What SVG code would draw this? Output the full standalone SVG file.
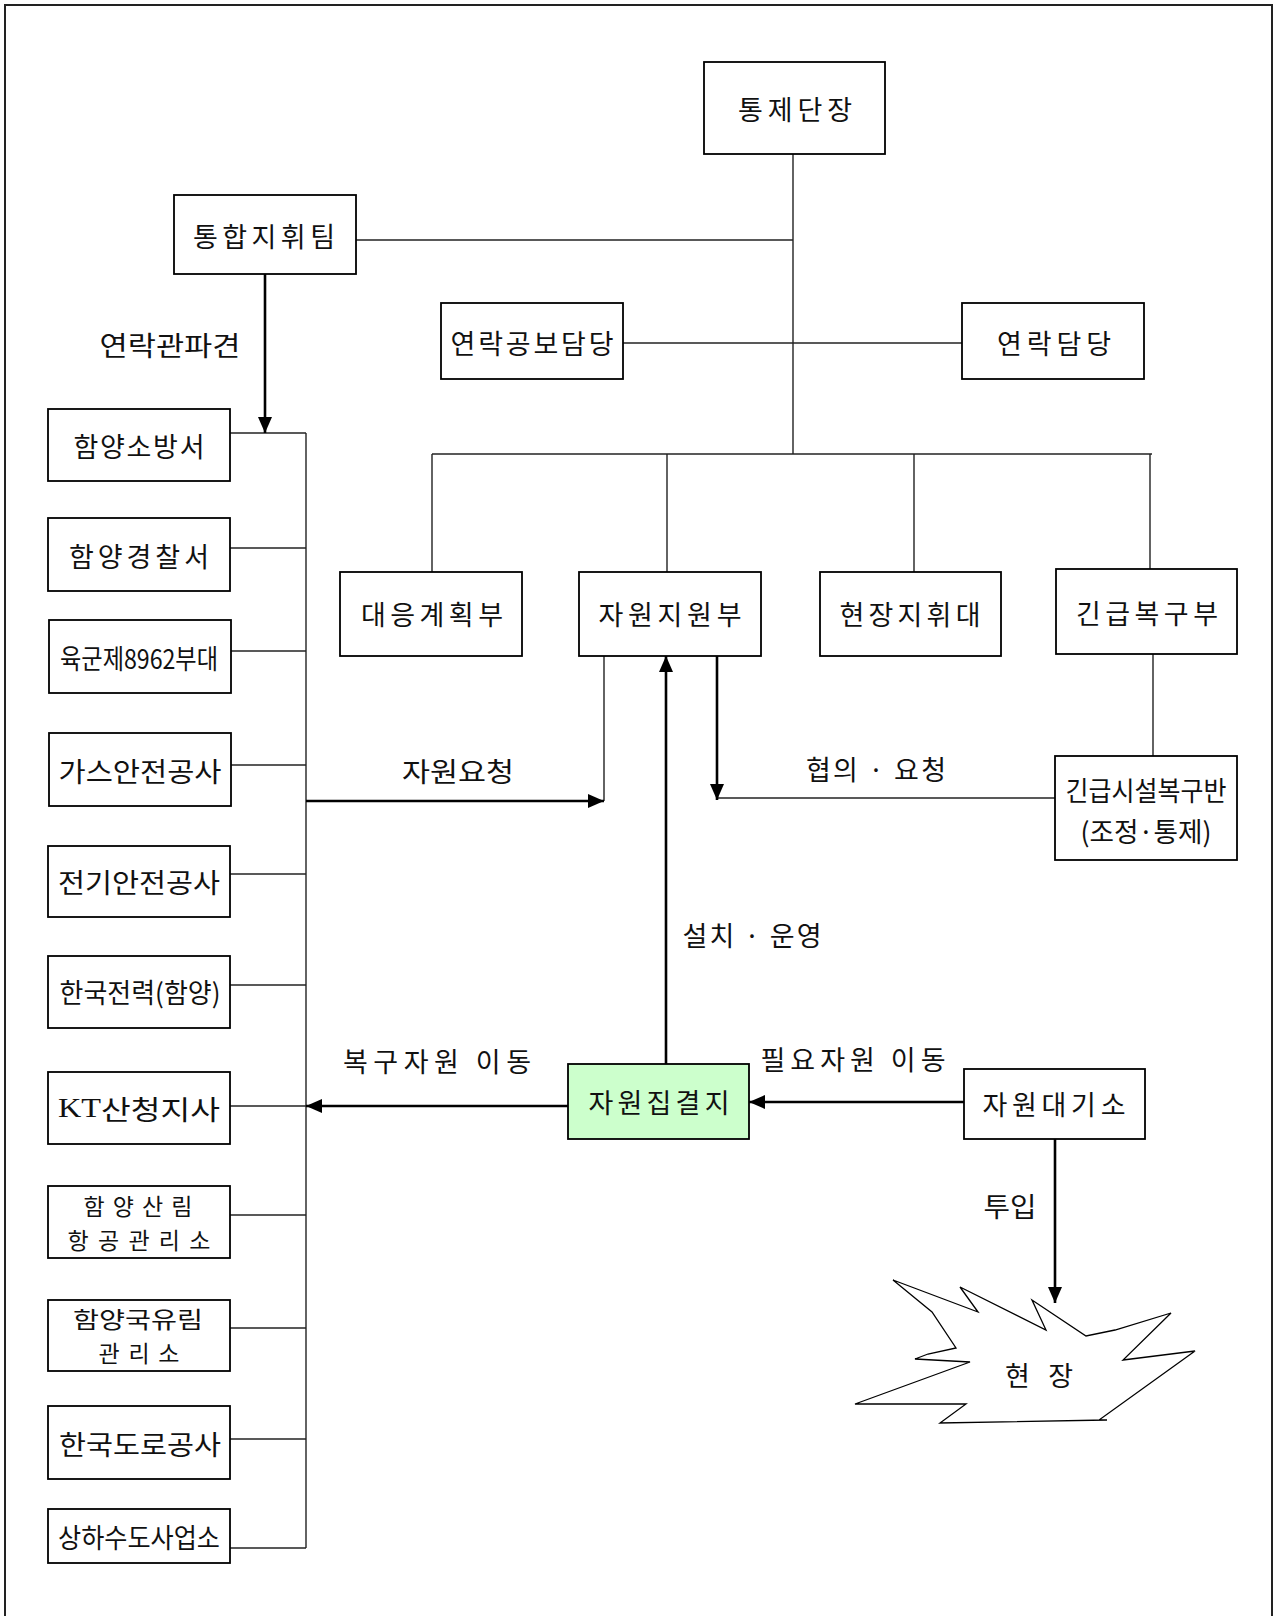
<svg xmlns="http://www.w3.org/2000/svg" width="1274" height="1616" viewBox="0 0 1274 1616">
<defs>
<style>
.box{fill:#fff;stroke:#000;stroke-width:1.8}
.green{fill:#ccffcc}
.ln{fill:none;stroke:#222;stroke-width:1.4}
.ar{fill:none;stroke:#000;stroke-width:2.6}
text{font-family:"Noto Sans CJK KR","Liberation Serif",serif;font-size:27px;fill:#111;text-anchor:middle;dominant-baseline:central;font-weight:400}
.sm{font-size:23px}
.lat{font-family:"Liberation Serif","Noto Sans CJK KR",serif}
</style>
<marker id="ah" viewBox="0 0 16 14" refX="16" refY="7" markerWidth="16" markerHeight="14" markerUnits="userSpaceOnUse" orient="auto">
<path d="M0,0 L16,7 L0,14 Z" fill="#000"/>
</marker>
</defs>
<rect width="1274" height="1616" fill="#fff"/>
<rect x="5" y="5" width="1267" height="1640" fill="none" stroke="#222" stroke-width="2"/>

<g id="connectors">
<line class="ln" x1="793" y1="154" x2="793" y2="454"/>
<line class="ln" x1="356" y1="240" x2="793" y2="240"/>
<line class="ln" x1="623" y1="343" x2="962" y2="343"/>
<line class="ln" x1="432" y1="454" x2="1152" y2="454"/>
<line class="ln" x1="432" y1="454" x2="432" y2="572"/>
<line class="ln" x1="667" y1="454" x2="667" y2="572"/>
<line class="ln" x1="914" y1="454" x2="914" y2="572"/>
<line class="ln" x1="1150" y1="454" x2="1150" y2="569"/>
<line class="ln" x1="1153" y1="654" x2="1153" y2="756"/>
<line class="ln" x1="306" y1="433" x2="306" y2="1548"/>
<line class="ln" x1="230" y1="433" x2="306" y2="433"/>
<line class="ln" x1="230" y1="548" x2="306" y2="548"/>
<line class="ln" x1="231" y1="651" x2="306" y2="651"/>
<line class="ln" x1="231" y1="765" x2="306" y2="765"/>
<line class="ln" x1="230" y1="874" x2="306" y2="874"/>
<line class="ln" x1="230" y1="985" x2="306" y2="985"/>
<line class="ln" x1="230" y1="1106" x2="306" y2="1106"/>
<line class="ln" x1="230" y1="1215" x2="306" y2="1215"/>
<line class="ln" x1="230" y1="1328" x2="306" y2="1328"/>
<line class="ln" x1="230" y1="1439" x2="306" y2="1439"/>
<line class="ln" x1="230" y1="1548" x2="306" y2="1548"/>
<line class="ln" x1="604" y1="656" x2="604" y2="801"/>
<line class="ln" x1="1055" y1="798" x2="717" y2="798"/>
<line class="ar" x1="265" y1="274" x2="265" y2="433" marker-end="url(#ah)"/>
<line class="ar" x1="306" y1="801" x2="604" y2="801" marker-end="url(#ah)"/>
<line class="ar" x1="717" y1="656" x2="717" y2="800" marker-end="url(#ah)"/>
<line class="ar" x1="666" y1="1064" x2="666" y2="656" marker-end="url(#ah)"/>
<line class="ar" x1="568" y1="1106" x2="306" y2="1106" marker-end="url(#ah)"/>
<line class="ar" x1="964" y1="1102" x2="749" y2="1102" marker-end="url(#ah)"/>
<line class="ar" x1="1055" y1="1139" x2="1055" y2="1303" marker-end="url(#ah)"/>
<text x="170" y="344" textLength="141" lengthAdjust="spacingAndGlyphs">연락관파견</text>
<text x="458" y="770" textLength="112" lengthAdjust="spacingAndGlyphs">자원요청</text>
<text x="876" y="768" textLength="140" lengthAdjust="spacing">협의 · 요청</text>
<text x="752" y="934" textLength="139" lengthAdjust="spacing">설치 · 운영</text>
<text x="853" y="1058" textLength="185" lengthAdjust="spacing">필요자원  이동</text>
<text x="437" y="1060" textLength="188" lengthAdjust="spacing">복구자원  이동</text>
<text x="1010" y="1205" textLength="53" lengthAdjust="spacingAndGlyphs">투입</text>
</g>

<g id="n-tongje"><rect class="box" x="704" y="62" width="181" height="92"/><text x="795" y="108" textLength="114" lengthAdjust="spacing">통제단장</text></g>
<g id="n-tonghap"><rect class="box" x="174" y="195" width="182" height="79"/><text x="264" y="235" textLength="142" lengthAdjust="spacing">통합지휘팀</text></g>
<g id="n-gongbo"><rect class="box" x="441" y="303" width="182" height="76"/><text x="532" y="342" textLength="163" lengthAdjust="spacing">연락공보담당</text></g>
<g id="n-yeonrak"><rect class="box" x="962" y="303" width="182" height="76"/><text x="1054" y="342" textLength="114" lengthAdjust="spacing">연락담당</text></g>
<g id="n-daeeung"><rect class="box" x="340" y="572" width="182" height="84"/><text x="432" y="613" textLength="142" lengthAdjust="spacing">대응계획부</text></g>
<g id="n-jawon"><rect class="box" x="579" y="572" width="182" height="84"/><text x="670" y="613" textLength="143" lengthAdjust="spacing">자원지원부</text></g>
<g id="n-hyeonjang-jh"><rect class="box" x="820" y="572" width="181" height="84"/><text x="910" y="613" textLength="141" lengthAdjust="spacing">현장지휘대</text></g>
<g id="n-gingeup"><rect class="box" x="1056" y="569" width="181" height="85"/><text x="1147" y="612" textLength="142" lengthAdjust="spacing">긴급복구부</text></g>
<g id="n-siseol"><rect class="box" x="1055" y="756" width="182" height="104"/><text x="1146" y="789" textLength="161" lengthAdjust="spacingAndGlyphs">긴급시설복구반</text><text x="1146" y="830" textLength="131" lengthAdjust="spacingAndGlyphs">(조정·통제)</text></g>
<g id="n-jipgyeol"><rect class="box green" x="568" y="1064" width="181" height="75"/><text x="659" y="1101" textLength="141" lengthAdjust="spacing">자원집결지</text></g>
<g id="n-daegi"><rect class="box" x="964" y="1069" width="181" height="70"/><text x="1054" y="1103" textLength="143" lengthAdjust="spacing">자원대기소</text></g>
<g id="n-site"><polygon points="893,1280 978,1312 960,1287 1046,1330 1032,1300 1086,1336 1115,1330 1171,1313 1123,1360 1195,1351 1099,1420 1107,1420 940,1423 966,1404 855,1404 970,1362 915,1359 928,1354 956,1348 932,1312" fill="#fff" stroke="#000" stroke-width="1.3" stroke-linejoin="miter"/><text x="1039" y="1374" textLength="68" lengthAdjust="spacing">현 장</text></g>

<g id="n-sobang"><rect class="box" x="48" y="409" width="182" height="72"/><text x="139" y="445" textLength="131" lengthAdjust="spacing">함양소방서</text></g>
<g id="n-police"><rect class="box" x="48" y="518" width="182" height="73"/><text x="139" y="555" textLength="140" lengthAdjust="spacing">함양경찰서</text></g>
<g id="n-army"><rect class="box" x="49" y="620" width="182" height="73"/><text x="139" y="657" textLength="158" lengthAdjust="spacingAndGlyphs">육군제8962부대</text></g>
<g id="n-gas"><rect class="box" x="49" y="733" width="182" height="73"/><text x="140" y="770" textLength="163" lengthAdjust="spacingAndGlyphs">가스안전공사</text></g>
<g id="n-elec"><rect class="box" x="48" y="846" width="182" height="71"/><text x="139" y="881" textLength="162" lengthAdjust="spacingAndGlyphs">전기안전공사</text></g>
<g id="n-kepco"><rect class="box" x="48" y="956" width="182" height="72"/><text x="140" y="991" textLength="161" lengthAdjust="spacingAndGlyphs">한국전력(함양)</text></g>
<g id="n-kt"><rect class="box" x="48" y="1072" width="182" height="72"/><text x="139" y="1108" textLength="162" lengthAdjust="spacingAndGlyphs"><tspan class="lat">KT</tspan>산청지사</text></g>
<g id="n-forest-air"><rect class="box" x="48" y="1186" width="182" height="72"/><text class="sm" x="138" y="1205" textLength="109" lengthAdjust="spacing">함양산림</text><text class="sm" x="139" y="1239" textLength="143" lengthAdjust="spacing">항공관리소</text></g>
<g id="n-forest"><rect class="box" x="48" y="1300" width="182" height="71"/><text class="sm" x="138" y="1318" textLength="130" lengthAdjust="spacingAndGlyphs">함양국유림</text><text class="sm" x="139" y="1352" textLength="81" lengthAdjust="spacing">관리소</text></g>
<g id="n-road"><rect class="box" x="48" y="1406" width="182" height="73"/><text x="140" y="1443" textLength="162" lengthAdjust="spacingAndGlyphs">한국도로공사</text></g>
<g id="n-water"><rect class="box" x="48" y="1509" width="182" height="54"/><text x="139" y="1536" textLength="162" lengthAdjust="spacingAndGlyphs">상하수도사업소</text></g>
</svg>
